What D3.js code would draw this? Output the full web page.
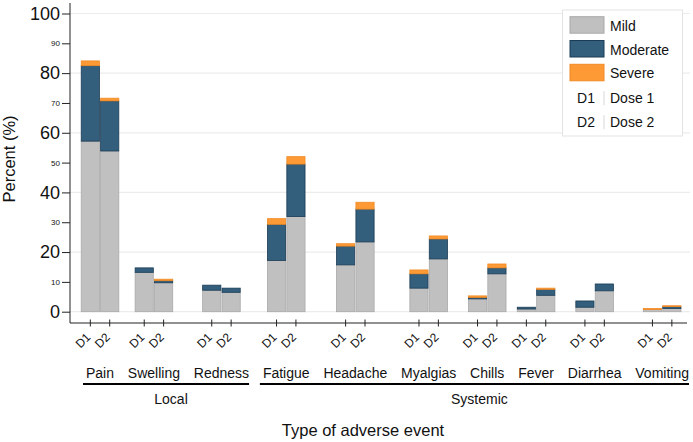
<!DOCTYPE html>
<html>
<head>
<meta charset="utf-8">
<script src="https://cdn.jsdelivr.net/npm/d3@7"></script>
<style>
  body { margin: 0; background: #fff; }
  svg { font-family: "Liberation Sans", Arial, Helvetica, sans-serif; }
</style>
</head>
<body>
<div class="chart"></div>
<script>
// categories, grouped as in the figure
const events = ['Pain', 'Swelling', 'Redness', 'Fatigue', 'Headache', 'Myalgias', 'Chills', 'Fever', 'Diarrhea', 'Vomiting']
const groups = [
  { name: 'Local', members: ['Pain', 'Swelling', 'Redness'] },
  { name: 'Systemic', members: ['Fatigue', 'Headache', 'Myalgias', 'Chills', 'Fever', 'Diarrhea', 'Vomiting'] }
]
const doses = ['D1', 'D2']
const severities = ['Mild', 'Moderate', 'Severe']

// percent by event, [D1, D2]
const mild =     [[57.2, 53.9], [13.2, 9.7], [7.2, 6.5], [17.2, 31.9], [15.7, 23.4], [7.9, 17.7], [4.3, 12.7], [0.9, 5.5], [1.5, 7.0], [0.7, 1.1]]
const moderate = [[25.3, 16.8], [1.5, 0.7], [1.7, 1.4], [12.1, 17.6], [6.3, 11.0], [4.8, 6.7], [0.5, 2.0], [0.6, 2.0], [2.1, 2.3], [0.0, 0.6]]
const severe =   [[1.6, 0.9], [0.0, 0.5], [0.0, 0.0], [1.9, 2.5], [0.8, 2.3], [1.3, 1.0], [0.5, 1.3], [0.0, 0.4], [0.0, 0.0], [0.4, 0.3]]

const yTicks = d3.range(0, 101, 10)
const yMajor = [0, 20, 40, 60, 80, 100]

const colors = {
  Mild: { fill: '#c0c0c0', stroke: '#a9a9a9' },
  Moderate: { fill: '#335e7c', stroke: '#1b3c55' },
  Severe: { fill: '#fd9a35', stroke: '#f08a25' }
}

const width = 693
const height = 442

const svg = d3.select('.chart')
  .append('svg')
  .attr('width', width)
  .attr('height', height)

const plot = { left: 70, right: 690, top: 3, axisY: 323 }

const y = d3.scaleLinear()
  .domain([0, 100])
  .range([311.7, 13.5])

// lay the event labels out in one row, the bars sit under each label
const labelSize = 14
const measure = svg.append('text').style('font-size', labelSize + 'px')
const labelWidths = events.map(e => {
  measure.text(e)
  return measure.node().getComputedTextLength()
})
measure.remove()

const rowStart = 86
const rowEnd = 689
const gap = (rowEnd - rowStart - d3.sum(labelWidths)) / (events.length - 1)
const labelStart = []
let cursor = rowStart
labelWidths.forEach(w => {
  labelStart.push(cursor)
  cursor += w + gap
})
const center = events.map((e, i) => labelStart[i] + labelWidths[i] / 2)

const x = d3.scaleOrdinal().domain(events).range(center)
const barW = 18.8
const dx = d3.scaleBand().domain(doses).range([-barW - 0.4, barW + 0.4]).paddingInner(0.02)

// grid
svg.append('g')
  .selectAll('line')
  .data(yMajor)
  .join('line')
  .attr('x1', plot.left)
  .attr('x2', plot.right)
  .attr('y1', d => y(d))
  .attr('y2', d => y(d))
  .attr('stroke', '#ececec')
  .attr('stroke-width', 1.2)

// stacked bars
const rows = []
events.forEach((e, i) => {
  doses.forEach((d, j) => {
    const vals = [mild[i][j], moderate[i][j], severe[i][j]]
    let base = 0
    severities.forEach((s, k) => {
      if (vals[k] > 0) {
        rows.push({ event: e, dose: d, sev: s, y0: base, y1: base + vals[k] })
      }
      base += vals[k]
    })
  })
})

svg.append('g')
  .selectAll('rect')
  .data(rows)
  .join('rect')
  .attr('x', d => x(d.event) + dx(d.dose) + 0.4)
  .attr('width', dx.bandwidth() - 0.8)
  .attr('y', d => y(d.y1))
  .attr('height', d => y(d.y0) - y(d.y1))
  .attr('fill', d => colors[d.sev].fill)
  .attr('stroke', d => colors[d.sev].stroke)
  .attr('stroke-width', 0.8)

// y axis
const yAxis = svg.append('g')
  .attr('transform', `translate(${plot.left}, 0)`)
  .call(
    d3.axisLeft(y)
      .tickValues(yTicks)
      .tickSize(8)
      .tickSizeOuter(0)
      .tickPadding(2)
  )
yAxis.select('.domain').remove()
yAxis.selectAll('.tick line').attr('stroke', '#222')
yAxis.selectAll('.tick text')
  .attr('fill', '#111')
  .style('font-family', '"Liberation Sans", Arial, sans-serif')
  .style('font-size', d => yMajor.includes(d) ? '18px' : '8px')

svg.append('line')
  .attr('x1', plot.left).attr('x2', plot.left)
  .attr('y1', plot.top).attr('y2', plot.axisY)
  .attr('stroke', '#222')

svg.append('text')
  .attr('transform', `translate(15, 159) rotate(-90)`)
  .attr('text-anchor', 'middle')
  .style('font-size', '16.5px')
  .attr('fill', '#111')
  .text('Percent (%)')

// x axis
svg.append('line')
  .attr('x1', plot.left).attr('x2', plot.right - 3)
  .attr('y1', plot.axisY).attr('y2', plot.axisY)
  .attr('stroke', '#222')

const ticks = []
events.forEach(e => doses.forEach(d => ticks.push({ event: e, dose: d })))
const tickX = d => x(d.event) + dx(d.dose) + dx.bandwidth() / 2

svg.append('g')
  .selectAll('line')
  .data(ticks)
  .join('line')
  .attr('x1', tickX).attr('x2', tickX)
  .attr('y1', plot.axisY - 3.5).attr('y2', plot.axisY + 3.5)
  .attr('stroke', '#222')

svg.append('g')
  .selectAll('text')
  .data(ticks)
  .join('text')
  .attr('transform', d => `translate(${tickX(d) + 1}, ${plot.axisY + 15}) rotate(-45)`)
  .attr('text-anchor', 'end')
  .style('font-size', '12px')
  .attr('fill', '#111')
  .text(d => d.dose)

// event labels
svg.append('g')
  .selectAll('text')
  .data(events)
  .join('text')
  .attr('x', (d, i) => labelStart[i])
  .attr('y', 378)
  .style('font-size', labelSize + 'px')
  .attr('fill', '#111')
  .text(d => d)

// group underlines and names
groups.forEach(g => {
  const first = events.indexOf(g.members[0])
  const last = events.indexOf(g.members[g.members.length - 1])
  const x0 = labelStart[first] - 3
  const x1 = labelStart[last] + labelWidths[last]
  svg.append('line')
    .attr('x1', x0).attr('x2', x1)
    .attr('y1', 384).attr('y2', 384)
    .attr('stroke', '#000')
    .attr('stroke-width', 2)
  svg.append('text')
    .attr('x', (x0 + x1) / 2 + 5)
    .attr('y', 404)
    .attr('text-anchor', 'middle')
    .style('font-size', labelSize + 'px')
    .attr('fill', '#111')
    .text(g.name)
})

svg.append('text')
  .attr('x', 363)
  .attr('y', 436)
  .attr('text-anchor', 'middle')
  .style('font-size', '16.5px')
  .attr('fill', '#111')
  .text('Type of adverse event')

// legend
const legend = svg.append('g')
legend.append('rect')
  .attr('x', 562.5).attr('y', 10)
  .attr('width', 120).attr('height', 126)
  .attr('fill', '#fff')
  .attr('stroke', '#e3e3e3')

severities.forEach((s, i) => {
  const yy = 16.7 + i * 23.8
  legend.append('rect')
    .attr('x', 570).attr('y', yy)
    .attr('width', 34).attr('height', 16.5)
    .attr('fill', colors[s].fill)
    .attr('stroke', colors[s].stroke)
  legend.append('text')
    .attr('x', 610).attr('y', yy + 14)
    .style('font-size', labelSize + 'px')
    .attr('fill', '#111')
    .text(s)
})

const doseNames = ['Dose 1', 'Dose 2']
doses.forEach((d, i) => {
  const cy = 98.3 + i * 24
  legend.append('text')
    .attr('x', 586).attr('y', cy + 5)
    .attr('text-anchor', 'middle')
    .style('font-size', labelSize + 'px')
    .attr('fill', '#111')
    .text(d)
  legend.append('line')
    .attr('x1', 604).attr('x2', 604)
    .attr('y1', cy - 7).attr('y2', cy + 7)
    .attr('stroke', '#d8d8d8')
  legend.append('text')
    .attr('x', 610).attr('y', cy + 5)
    .style('font-size', labelSize + 'px')
    .attr('fill', '#111')
    .text(doseNames[i])
})
</script>
</body>
</html>
